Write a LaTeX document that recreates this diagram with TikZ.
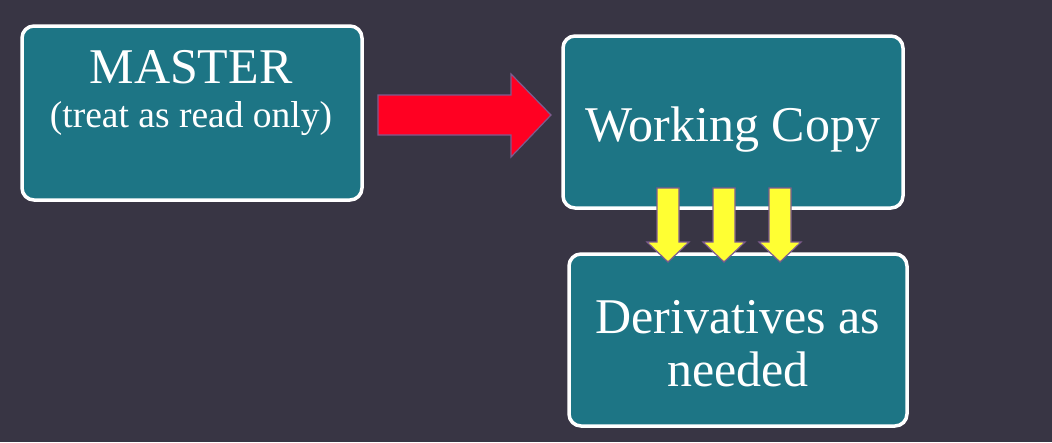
\documentclass[tikz,border=0pt]{standalone}
\usepackage{fontspec}
\setmainfont{Liberation Serif}
\definecolor{bg}{HTML}{383544}
\definecolor{teal}{HTML}{1D7585}
\definecolor{redarrow}{HTML}{FF0022}
\definecolor{yelarrow}{HTML}{FFFF33}
\definecolor{edgepurple}{HTML}{7E5C8E}
\begin{document}
\begin{tikzpicture}[x=1pt,y=-1pt,
  box/.style={draw=white,line width=3.5pt,fill=teal,rounded corners=12pt},
  txt/.style={text=white,anchor=base,inner sep=0pt,font=\fontsize{50}{54}\selectfont},
  smalltxt/.style={text=white,anchor=base,inner sep=0pt,font=\fontsize{37.5}{40}\selectfont},
  redarr/.style={fill=redarrow,draw=edgepurple,line width=1.2pt,line join=miter},
  yelarr/.style={fill=yelarrow,draw=edgepurple,line width=1.2pt,line join=miter}]
\fill[bg] (0,0) rectangle (1052,442);
\useasboundingbox (0,0) rectangle (1052,442);
% boxes
\draw[box] (22,26) rectangle (362,200);
\draw[box] (563,36) rectangle (903,208);
\draw[box] (569,254) rectangle (907,426);
\node[txt] (master) at (191,83) {MASTER};
\node[smalltxt] (ro) at (191,127) {(treat as read only)};
\node[txt] (wc) at (733,141) {Working Copy};
\node[txt] (d1) at (738,333) {Derivatives as};
\node[txt] (d2) at (738,386) {needed};
% red arrow
\draw[redarr] (378,95) -- (511,95) -- (511,74) -- (551,115) -- (511,157) -- (511,135) -- (378,135) -- cycle;
% yellow arrows
\foreach \cx/\nm in {668/ya, 724/yb, 780/yc}{
  \draw[yelarr] (\cx-11,188) -- (\cx+11,188) -- (\cx+11,242) -- (\cx+21,242) -- (\cx,262) -- (\cx-21,242) -- (\cx-11,242) -- cycle;
}
\end{tikzpicture}
\end{document}
